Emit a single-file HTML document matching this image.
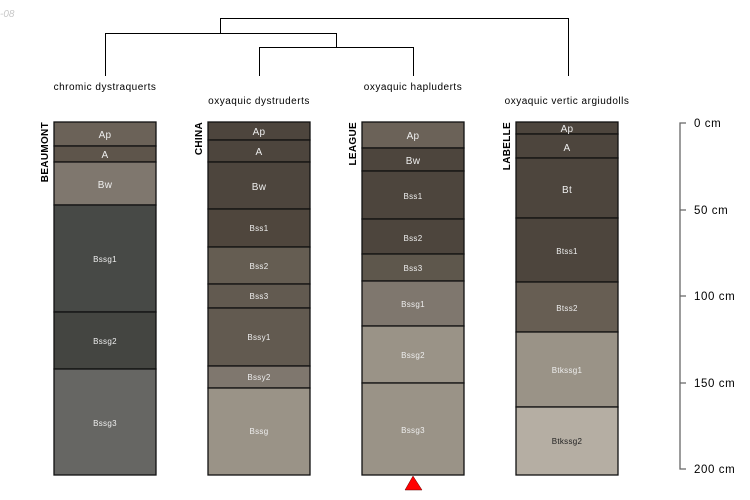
<!DOCTYPE html>
<html><head><meta charset="utf-8"><style>
html,body{margin:0;padding:0;background:#fff;}
svg{display:block;font-family:"Liberation Sans",sans-serif;}
</style></head><body>
<svg width="750" height="500" viewBox="0 0 750 500" xmlns="http://www.w3.org/2000/svg">
<text x="0" y="17" font-size="10" font-style="italic" fill="#c8c8c8">-08</text>
<g stroke="#000" stroke-width="1" fill="none">
<path d="M220.5 33V18.5H568.5V76"/>
<path d="M105.5 76V33.5H336.5V47"/>
<path d="M259.5 76V47.5H413.5V76"/>
</g>
<g font-size="10" fill="#000" text-anchor="middle" letter-spacing="0.5">
<text x="105" y="90">chromic dystraquerts</text>
<text x="259" y="104">oxyaquic dystruderts</text>
<text x="413" y="90">oxyaquic hapluderts</text>
<text x="567" y="104">oxyaquic vertic argiudolls</text>
</g>
<g font-size="10" font-weight="bold" fill="#000" text-anchor="end" letter-spacing="0.3">
<text transform="translate(48,122) rotate(-90)">BEAUMONT</text>
<text transform="translate(202,122) rotate(-90)">CHINA</text>
<text transform="translate(356,122) rotate(-90)">LEAGUE</text>
<text transform="translate(510,122) rotate(-90)">LABELLE</text>
</g>
<g stroke="#111" stroke-width="1.3" font-size="8" text-anchor="middle">
<rect x="54" y="122" width="102" height="24" fill="#6b6258"/>
<rect x="54" y="146" width="102" height="16" fill="#5e554b"/>
<rect x="54" y="162" width="102" height="43" fill="#7f776e"/>
<rect x="54" y="205" width="102" height="107" fill="#474946"/>
<rect x="54" y="312" width="102" height="57" fill="#444541"/>
<rect x="54" y="369" width="102" height="106" fill="#666663"/>
<rect x="208" y="122" width="102" height="18" fill="#4d453d"/>
<rect x="208" y="140" width="102" height="22" fill="#4d453d"/>
<rect x="208" y="162" width="102" height="47" fill="#4d453d"/>
<rect x="208" y="209" width="102" height="38" fill="#4f463d"/>
<rect x="208" y="247" width="102" height="37" fill="#655d52"/>
<rect x="208" y="284" width="102" height="24" fill="#625a50"/>
<rect x="208" y="308" width="102" height="58" fill="#625a50"/>
<rect x="208" y="366" width="102" height="22" fill="#7f776e"/>
<rect x="208" y="388" width="102" height="87" fill="#9a9387"/>
<rect x="362" y="122" width="102" height="26" fill="#6b6258"/>
<rect x="362" y="148" width="102" height="23" fill="#4d453d"/>
<rect x="362" y="171" width="102" height="48" fill="#4d453d"/>
<rect x="362" y="219" width="102" height="35" fill="#4d453d"/>
<rect x="362" y="254" width="102" height="27" fill="#5e574c"/>
<rect x="362" y="281" width="102" height="45" fill="#7f776e"/>
<rect x="362" y="326" width="102" height="57" fill="#9a9387"/>
<rect x="362" y="383" width="102" height="92" fill="#9a9387"/>
<rect x="516" y="122" width="102" height="12" fill="#4d453d"/>
<rect x="516" y="134" width="102" height="24" fill="#4d453d"/>
<rect x="516" y="158" width="102" height="60" fill="#4d453d"/>
<rect x="516" y="218" width="102" height="64" fill="#4d453d"/>
<rect x="516" y="282" width="102" height="50" fill="#675e53"/>
<rect x="516" y="332" width="102" height="75" fill="#9a9387"/>
<rect x="516" y="407" width="102" height="68" fill="#b5aea3"/>
</g>
<g fill="#eee" text-anchor="middle" letter-spacing="0.3">
<g font-size="10">
<text x="105" y="138">Ap</text><text x="105" y="158">A</text><text x="105" y="188">Bw</text>
<text x="259" y="135">Ap</text><text x="259" y="155">A</text><text x="259" y="190">Bw</text>
<text x="413" y="139">Ap</text><text x="413" y="164">Bw</text>
<text x="567" y="132">Ap</text><text x="567" y="151">A</text><text x="567" y="193">Bt</text>
</g>
<g font-size="8">
<text x="105" y="262">Bssg1</text><text x="105" y="344">Bssg2</text><text x="105" y="426">Bssg3</text>
<text x="259" y="231">Bss1</text><text x="259" y="269">Bss2</text><text x="259" y="299">Bss3</text>
<text x="259" y="340">Bssy1</text><text x="259" y="380">Bssy2</text><text x="259" y="434">Bssg</text>
<text x="413" y="199">Bss1</text><text x="413" y="241">Bss2</text><text x="413" y="271">Bss3</text>
<text x="413" y="307">Bssg1</text><text x="413" y="358">Bssg2</text><text x="413" y="433">Bssg3</text>
<text x="567" y="254">Btss1</text><text x="567" y="311">Btss2</text><text x="567" y="373">Btkssg1</text>
<text x="567" y="444" fill="#222">Btkssg2</text>
</g>
</g>
<polygon points="413,476 405,490 422,490" fill="#f00" stroke="#600" stroke-width="0.5"/>
<g stroke="#666" stroke-width="1.3" fill="none">
<path d="M686 123H680V469H686"/>
<path d="M680 210H686M680 296H686M680 383H686"/>
</g>
<g font-size="11.5" fill="#000" letter-spacing="0.6">
<text x="694" y="127">0 cm</text>
<text x="694" y="214">50 cm</text>
<text x="694" y="300">100 cm</text>
<text x="694" y="387">150 cm</text>
<text x="694" y="473">200 cm</text>
</g>
</svg>
</body></html>
